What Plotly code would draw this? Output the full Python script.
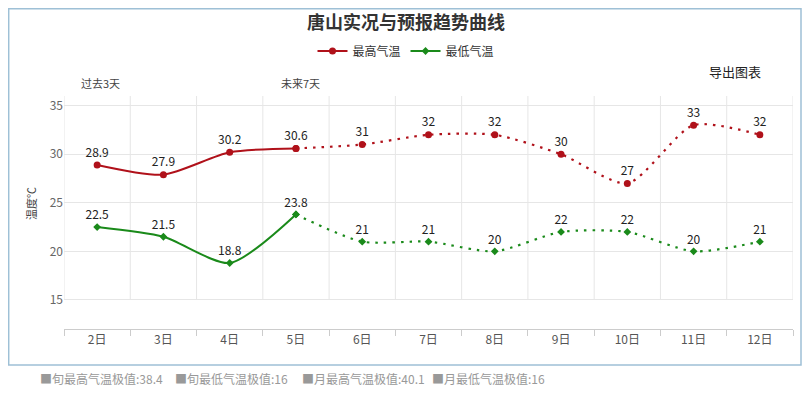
import plotly.graph_objects as go

categories = ["2日", "3日", "4日", "5日", "6日", "7日", "8日", "9日", "10日", "11日", "12日"]
max_temp = [28.9, 27.9, 30.2, 30.6, 31, 32, 32, 30, 27, 33, 32]
min_temp = [22.5, 21.5, 18.8, 23.8, 21, 21, 20, 22, 22, 20, 21]
past_count = 4  # 2日..5日 observed (solid), rest forecast (dotted)
y_ticks = [15, 20, 25, 30, 35]
footer_items = ["■旬最高气温极值:38.4", "■旬最低气温极值:16", "■月最高气温极值:40.1", "■月最低气温极值:16"]

# page body has an 8px margin, so the figure starts at screen (8, 8)
OFF = 8
W, H = 812 - OFF, 397 - OFF
PL, PR, PT, PB = 64, 793, 96, 329  # plot area in screen pixels
L, R, T, B = PL - OFF, W - (PR - OFF), PT - OFF, H - (PB - OFF)
pw, ph = W - L - R, H - T - B
FONT = "Noto Sans CJK SC, Microsoft YaHei, sans-serif"

def px(x):
    return (x - OFF - L) / pw

def py(y):
    return 1 - (y - OFF - T) / ph

RED = "#b0111a"
GREEN = "#1a8a1a"
SMOOTH = 0.7
DOT = "2.5px,6px"

fig = go.Figure()

def fmt(v):
    return ("%g" % v)

def add_series(name, vals, color, symbol, msize):
    solid_x = categories[:past_count]
    solid_y = vals[:past_count]
    dot_x = categories[past_count - 1:]
    dot_y = vals[past_count - 1:]
    fig.add_trace(go.Scatter(
        x=solid_x, y=solid_y, name=name, legendgroup=name, showlegend=True,
        mode="lines+markers+text",
        line=dict(color=color, width=2, shape="spline", smoothing=SMOOTH),
        marker=dict(color=color, size=msize, symbol=symbol),
        text=[fmt(v) for v in solid_y], textposition="top center",
        textfont=dict(family=FONT, size=12, color="#222"),
        cliponaxis=False, hoverinfo="x+y",
    ))
    fig.add_trace(go.Scatter(
        x=dot_x, y=dot_y, name=name, legendgroup=name, showlegend=False,
        mode="lines+markers+text",
        line=dict(color=color, width=2.2, shape="spline", smoothing=SMOOTH, dash=DOT),
        marker=dict(color=color, size=msize, symbol=symbol),
        text=[""] + [fmt(v) for v in dot_y[1:]], textposition="top center",
        textfont=dict(family=FONT, size=12, color="#222"),
        cliponaxis=False, hoverinfo="x+y",
    ))

add_series("最高气温", max_temp, RED, "circle", 7)
add_series("最低气温", min_temp, GREEN, "diamond", 6)

shapes = []
# vertical grid lines at category boundaries
for i in range(len(categories) + 1):
    shapes.append(dict(type="line", xref="x", yref="y", x0=i - 0.5, x1=i - 0.5,
                       y0=y_ticks[0], y1=36, line=dict(color="#e6e6e6", width=1), layer="below"))
# outer border
shapes.append(dict(type="rect", xref="paper", yref="paper", x0=px(8.7), x1=px(801),
                   y0=py(365), y1=py(8.7), line=dict(color="#9ec0d6", width=1.5), layer="below"))
# dark strip at right edge
shapes.append(dict(type="rect", xref="paper", yref="paper", x0=px(806.5), x1=px(812),
                   y0=py(397), y1=py(8), line=dict(width=0), fillcolor="#111111", layer="above"))

annotations = [
    dict(text="<b>唐山实况与预报趋势曲线</b>", xref="paper", yref="paper", x=px(406), y=py(21),
         showarrow=False, font=dict(family=FONT, size=18, color="#333"), xanchor="center", yanchor="middle"),
    dict(text="导出图表", xref="paper", yref="paper", x=px(735), y=py(71),
         showarrow=False, font=dict(family=FONT, size=13, color="#222"), xanchor="center", yanchor="middle"),
    dict(text="过去3天", xref="paper", yref="paper", x=px(100), y=py(83),
         showarrow=False, font=dict(family=FONT, size=11, color="#444"), xanchor="center", yanchor="middle"),
    dict(text="未来7天", xref="paper", yref="paper", x=px(300), y=py(83),
         showarrow=False, font=dict(family=FONT, size=11, color="#444"), xanchor="center", yanchor="middle"),
    dict(text="温度℃", xref="paper", yref="paper", x=px(31), y=py(204), textangle=-90,
         showarrow=False, font=dict(family=FONT, size=11, color="#444"), xanchor="center", yanchor="middle"),
]
foot_x = [38, 173, 300, 430]
for xx, t in zip(foot_x, footer_items):
    annotations.append(dict(text=t, xref="paper", yref="paper", x=px(xx), y=py(378),
                            showarrow=False, font=dict(family=FONT, size=12, color="#999"),
                            xanchor="left", yanchor="middle"))

fig.update_layout(
    width=W, height=H,
    margin=dict(l=L, r=R, t=T, b=B, pad=0),
    paper_bgcolor="white", plot_bgcolor="white",
    font=dict(family=FONT, size=12, color="#555"),
    showlegend=True,
    legend=dict(orientation="h", x=px(406), y=py(51), xanchor="center", yanchor="middle",
                font=dict(family=FONT, size=12, color="#333"), itemwidth=30, tracegroupgap=0),
    shapes=shapes, annotations=annotations,
    xaxis=dict(type="category", categoryorder="array", categoryarray=categories,
               range=[-0.5, len(categories) - 0.5], showgrid=False, zeroline=False,
               showline=True, linecolor="#cccccc", linewidth=1,
               ticks="outside", tickson="boundaries", ticklen=6, tickcolor="#cccccc",
               tickfont=dict(family=FONT, size=12, color="#555")),
    yaxis=dict(range=[12, 36], tickvals=y_ticks, showgrid=True, gridcolor="#e6e6e6",
               zeroline=False, showline=False, ticks="", ticklen=0,
               tickfont=dict(family=FONT, size=12, color="#666")),
)

fig.write_html("out.html")
